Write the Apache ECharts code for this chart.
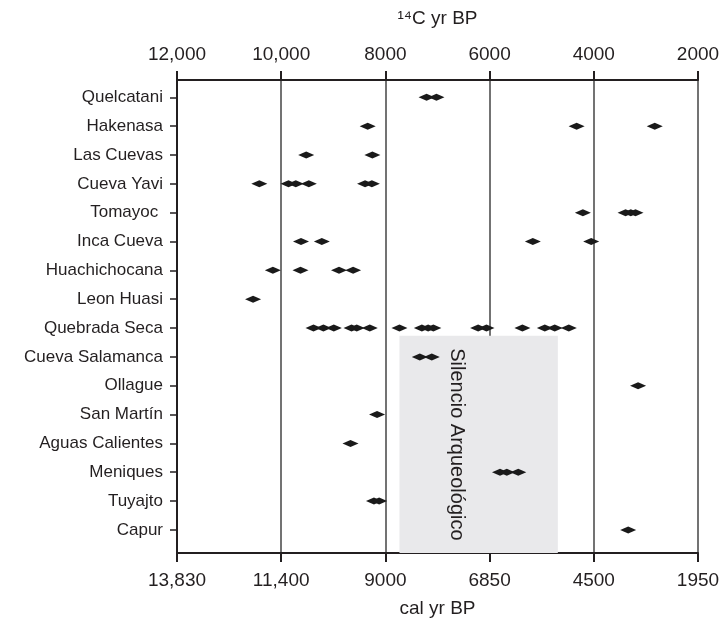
<!doctype html>
<html lang="es">
<head>
    <meta charset="utf-8">
    <title>Fechados radiocarbónicos</title>
    <script src="https://cdn.jsdelivr.net/npm/echarts@6/dist/echarts.min.js"></script>
    <style>
        html, body { margin: 0; padding: 0; background: #fff; }
        #main { width: 723px; height: 624px; }
    </style>
</head>
<body>
<div id="main"></div>
<script>
    // sitios, de arriba hacia abajo
    const sites = [
        'Quelcatani', 'Hakenasa', 'Las Cuevas', 'Cueva Yavi', 'Tomayoc ',
        'Inca Cueva', 'Huachichocana', 'Leon Huasi', 'Quebrada Seca',
        'Cueva Salamanca', 'Ollague', 'San Martín', 'Aguas Calientes',
        'Meniques', 'Tuyajto', 'Capur'
    ];

    // fechados 14C yr BP por sitio
    const quelcatani = [7210, 7020];
    const hakenasa = [8340, 4330, 2830];
    const lasCuevas = [9520, 8250];
    const cuevaYavi = [10420, 9860, 9720, 9470, 8390, 8260];
    const tomayoc = [4210, 3390, 3290, 3200];
    const incaCueva = [9620, 9220, 5170, 4050];
    const huachichocana = [10160, 9630, 8890, 8620];
    const leonHuasi = [10540];
    const quebradaSeca = [9380, 9190, 8990, 8650, 8550, 8300, 7730, 7300, 7180, 7080,
        6220, 6060, 5370, 4940, 4750, 4480];
    const cuevaSalamanca = [7340, 7110];
    const ollague = [3150];
    const sanMartin = [8160];
    const aguasCalientes = [8670];
    const meniques = [5800, 5670, 5450];
    const tuyajto = [8220, 8120];
    const capur = [3340];

    const dates = [quelcatani, hakenasa, lasCuevas, cuevaYavi, tomayoc, incaCueva,
        huachichocana, leonHuasi, quebradaSeca, cuevaSalamanca, ollague, sanMartin,
        aguasCalientes, meniques, tuyajto, capur];

    // ejes
    const c14Ticks = [12000, 10000, 8000, 6000, 4000, 2000];
    const calLabels = ['13,830', '11,400', '9000', '6850', '4500', '1950'];

    // "Silencio Arqueológico": rango 14C y filas
    const silenceRange = [7730, 4690];
    const silenceRows = [8.27, 15.8];

    const points = [];
    dates.forEach((list, i) => {
        list.forEach(v => points.push([v, i]));
    });

    const fontFamily = '"Liberation Sans", Arial, Helvetica, sans-serif';
    const ink = '#231f20';

    const fmtTop = v => v >= 10000 ? String(v).replace(/(\d{2})(\d{3})$/, '$1,$2') : String(v);
    const fmtBottom = v => calLabels[c14Ticks.indexOf(v)] || '';

    const chart = echarts.init(document.getElementById('main'));
    chart.setOption({
        animation: false,
        backgroundColor: '#fff',
        textStyle: {fontFamily: fontFamily, color: ink},
        grid: {left: 177, right: 25, top: 80, bottom: 71},
        xAxis: [
            {
                type: 'value',
                position: 'top',
                min: 2000,
                max: 12000,
                interval: 2000,
                inverse: true,
                name: '¹⁴C yr BP',
                nameLocation: 'middle',
                nameGap: 52,
                nameTextStyle: {fontSize: 19, color: ink, fontFamily: fontFamily},
                axisLine: {show: true, onZero: false, lineStyle: {color: ink, width: 2}},
                axisTick: {show: true, inside: false, length: 9, lineStyle: {color: ink, width: 2}},
                axisLabel: {fontSize: 19, color: ink, margin: 16, formatter: fmtTop},
                splitLine: {show: true, lineStyle: {color: '#444', width: 1.5}}
            },
            {
                type: 'value',
                position: 'bottom',
                min: 2000,
                max: 12000,
                interval: 2000,
                inverse: true,
                name: 'cal yr BP',
                nameLocation: 'middle',
                nameGap: 46,
                nameTextStyle: {fontSize: 19, color: ink, fontFamily: fontFamily},
                axisLine: {show: true, onZero: false, lineStyle: {color: ink, width: 2}},
                axisTick: {show: true, inside: false, length: 9, lineStyle: {color: ink, width: 2}},
                axisLabel: {fontSize: 19, color: ink, margin: 18, formatter: fmtBottom},
                splitLine: {show: false}
            }
        ],
        yAxis: {
            type: 'value',
            inverse: true,
            min: -0.6,
            max: 15.8,
            axisLine: {show: true, onZero: false, lineStyle: {color: ink, width: 2}},
            axisTick: {
                show: true, length: 7, lineStyle: {color: ink, width: 1.5},
                customValues: sites.map((s, i) => i)
            },
            axisLabel: {
                fontSize: 17, color: ink, margin: 14,
                customValues: sites.map((s, i) => i),
                formatter: v => sites[v] || ''
            },
            splitLine: {show: false}
        },
        series: [
            {
                type: 'scatter',
                z: -1,
                data: [],
                markArea: {
                    silent: true,
                    itemStyle: {color: '#e9e9eb'},
                    label: {
                        show: true,
                        position: 'inside',
                        rotate: -90,
                        offset: [0, 22],
                        fontSize: 20,
                        color: ink,
                        fontFamily: fontFamily
                    },
                    data: [[
                        {name: 'Silencio Arqueológico', xAxis: silenceRange[0], yAxis: silenceRows[0]},
                        {xAxis: silenceRange[1], yAxis: silenceRows[1]}
                    ]]
                }
            },
            {
                type: 'scatter',
                xAxisIndex: 0,
                symbol: 'diamond',
                symbolSize: [16, 7],
                itemStyle: {color: '#1a1a1a', opacity: 1},
                data: points
            }
        ]
    });
</script>
</body>
</html>
